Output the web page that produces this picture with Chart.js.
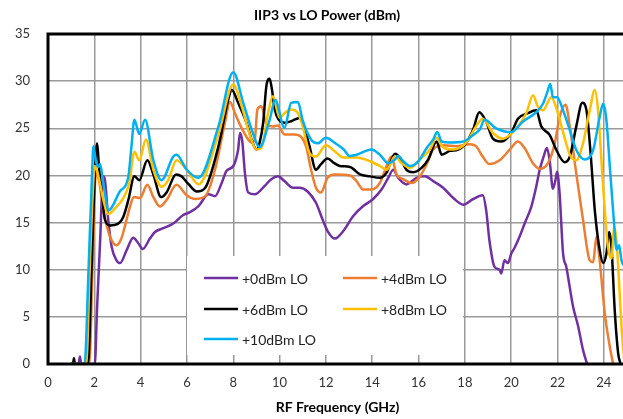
<!DOCTYPE html>
<html><head><meta charset="utf-8">
<script src="https://cdn.jsdelivr.net/npm/chart.js@4.4.0/dist/chart.umd.min.js"></script>
<style>
html,body{margin:0;padding:0;overflow:hidden;background:#fff;width:623px;height:419px}
#wrap{width:627px;height:419px}
</style></head>
<body><div id="wrap"><canvas id="c" width="627" height="419"></canvas></div>
<script>
const chartTitle = 'IIP3 vs LO Power (dBm)';
const xAxisTitle = 'RF Frequency (GHz)';
const xTicks = [0,2,4,6,8,10,12,14,16,18,20,22,24];
const yTicks = [0,5,10,15,20,25,30,35];
const seriesNames = ['+0dBm LO','+4dBm LO','+6dBm LO','+8dBm LO','+10dBm LO'];

const lo0Freq = [1.0,1.32,1.38,1.43,2.02,2.12,2.25,2.38,2.46,2.6,2.75,2.96,3.11,3.4,3.68,3.9,4.09,4.4,4.62,4.98,5.41,5.84,6.13,6.5,6.93,7.21,7.5,7.71,8.0,8.21,8.29,8.39,8.5,8.64,8.93,9.36,9.64,9.93,10.21,10.57,10.86,11.21,11.57,11.86,12.07,12.39,12.75,13.18,13.61,14.04,14.4,14.69,14.91,15.12,15.48,15.91,16.27,16.63,17.06,17.5,17.93,18.36,18.77,18.92,19.06,19.28,19.5,19.57,19.71,19.86,20.0,20.14,20.36,20.58,20.87,21.08,21.23,21.4,21.54,21.66,21.8,21.91,21.98,22.09,22.24,22.38,22.67,22.89,23.1,23.28];
const lo0IIP3 = [0,0,0.8,0,0,6,13,19.9,19.5,15.3,12.4,11,10.7,12.1,13.4,12.8,12.2,13.3,14,14.4,14.9,15.8,16.1,16.75,18,17.8,19.2,20.5,21,22.75,24.5,23.6,20.3,18.2,18,18.9,19.6,19.9,19.4,18.7,18.7,18.3,17.1,15.3,14.1,13.3,14.1,15.7,16.75,17.5,18.5,19.75,20.6,19.75,19.05,19.75,19.9,19.4,18.7,17.6,16.9,17.5,17.9,16.3,13.1,10.3,10,9.6,11,10.7,11.7,12.3,13.5,14.9,16.7,18.8,20.6,22,22.9,21.6,18.6,19.5,20.4,18.1,11.7,10.3,6.1,4,1.5,0];

const lo4Freq = [1.0,1.78,1.92,2.02,2.08,2.2,2.39,2.68,2.96,3.15,3.32,3.54,3.71,3.97,4.29,4.55,4.83,5.12,5.55,5.99,6.36,6.79,7.21,7.64,7.86,8.07,8.43,8.79,8.93,9.04,9.21,9.43,9.71,9.93,10.21,10.64,10.93,11.14,11.36,11.57,11.79,12.07,12.36,13.04,13.32,13.61,13.97,14.33,14.62,14.83,15.05,15.34,15.7,16.06,16.35,16.63,17.06,17.64,18.22,18.48,18.77,19.06,19.5,19.93,20.29,20.58,20.94,21.23,21.59,21.88,22.09,22.35,22.53,22.81,23.1,23.39,23.54,23.68,23.82,24.04,24.26,24.4];
const lo4IIP3 = [0,0,10,18.5,20.3,19.5,16.3,13.5,12.6,13.2,14.6,16.7,17.7,17.6,19,17.7,16.7,17.4,19,17.9,17.5,17.8,20.6,25.6,27.8,26.6,24.7,23.5,23.8,27,27.35,25.4,25.2,25.3,24.35,24.35,24.1,23.1,20.6,18.7,18.2,19.75,20.1,20,19.4,18.5,18.5,19.2,21,22,20.1,19.6,19.2,19.9,21.2,22.75,23.2,23.1,23.3,23.1,22,21.2,21.6,22.7,23.6,22.9,21.3,20.7,21.3,23.4,26.2,27.5,25.2,20.2,15.3,11,10.8,13.5,11,5.4,1.8,0];

const lo6Freq = [1.0,1.08,1.12,1.16,1.73,1.88,2.02,2.12,2.2,2.32,2.46,2.68,3.04,3.25,3.47,3.73,3.94,4.29,4.55,4.88,5.12,5.53,5.77,6.06,6.43,6.79,7.36,7.79,7.93,8.21,8.57,8.86,9.0,9.14,9.29,9.43,9.57,9.67,9.79,9.97,10.21,10.5,10.86,11.0,11.29,11.57,11.79,12.07,12.36,12.6,13.04,13.47,13.9,14.33,14.62,14.98,15.19,15.48,15.77,16.13,16.42,16.78,17.0,17.35,17.71,18.07,18.36,18.62,18.92,19.21,19.57,20.0,20.29,20.72,21.08,21.3,21.66,21.95,22.31,22.53,22.81,23.07,23.25,23.43,23.61,23.82,23.97,24.11,24.23,24.33,24.47,24.62,24.72];
const lo6IIP3 = [0,0,0.6,0,0,10,20,23.4,21,18.1,15.3,14.7,14.9,15.6,17.4,19.9,19.5,21.6,20.1,17.7,18.2,20.1,19.9,19.1,18.3,18.7,23.1,28.1,29.1,27.7,25.6,23.3,22.75,23.5,25.6,29.5,30.25,29.1,27,25.9,25.6,25.75,26.1,25.6,23.1,20.6,21.2,21.8,21.3,21,20.9,20.1,19.9,19.75,20.3,22.3,21.9,20.6,20.35,20.8,21.7,23.6,22.2,22.6,22.75,23.5,24.9,26.7,25.7,23.9,23.6,24.5,26,26.6,26.9,25.2,24.3,22.7,21.4,22,25.2,27.7,26.9,22.3,16.3,12.1,10.7,11.7,14,12.4,5.7,1.1,0];

const lo8Freq = [1.0,1.65,1.8,1.95,2.02,2.15,2.39,2.6,2.89,3.25,3.51,3.73,3.94,4.23,4.55,4.91,5.19,5.55,5.99,6.5,7.36,8.0,8.36,8.71,9.0,9.21,9.5,9.71,10.0,10.21,10.5,10.79,11.0,11.29,11.57,12.0,12.36,12.75,13.32,13.9,14.33,14.62,14.98,15.27,15.63,16.06,16.49,16.78,17.06,17.5,18.07,18.48,18.77,19.21,19.64,20.07,20.65,20.94,21.15,21.37,21.73,21.98,22.24,22.53,22.81,23.1,23.39,23.61,23.75,23.97,24.18,24.33,24.45,24.55,24.65,24.78,24.9];
const lo8IIP3 = [0,0,10,19,21,20.2,17.4,15.9,16.5,17.6,19.2,22.5,21.6,23.8,20.6,18.8,19.5,21.6,20.6,19.05,24.35,29.65,27.35,24.35,22.75,22.9,26.6,28.4,26.1,26.6,27,26.6,25.2,22.4,22,23.2,22.6,21.9,21.9,21.5,21,20.6,22,21.3,20.8,21.7,22.75,24,23,22.75,23.5,25.2,26,24.5,23.9,24.6,26.6,28.5,27.3,26.9,28.3,26.9,24.6,22.2,21.6,23.4,26.9,29.05,26.9,18.8,12.4,11.2,14.5,13,9,3.3,0];

const lo10Freq = [1.0,1.58,1.75,1.9,1.96,2.07,2.17,2.25,2.4,2.62,3.1,3.47,3.6,3.73,3.94,4.19,4.55,4.9,5.41,5.55,5.99,6.5,7.36,8.0,8.43,8.79,9.14,9.57,9.81,10.21,10.5,10.79,11.0,11.36,11.64,12.0,12.36,12.75,13.04,13.32,13.97,14.33,14.69,14.98,15.12,15.34,15.63,15.99,16.35,16.63,16.81,17.0,17.35,17.93,18.36,18.65,18.85,19.35,20.0,20.5,21.08,21.37,21.54,21.69,21.8,21.98,22.24,22.53,22.81,23.17,23.54,23.82,23.97,24.11,24.26,24.43,24.55,24.66,24.76,24.85,24.95];
const lo10IIP3 = [0,0,10,20,23.1,21.5,20.9,21.2,19,16.3,18.3,19.9,23,25.9,24.4,25.9,21.6,19.5,22,22.2,20.6,19.75,25.2,30.95,27.7,24.9,23,25.9,28,25.05,27.7,27.8,25.8,23.8,23.4,24,23.5,22.8,22.05,22.2,22.75,22.2,21.3,21.7,22.05,21.5,21,21.5,22.9,23.8,24.6,23.6,23.5,23.6,24.3,24.9,25.9,25,24.6,25.7,26.7,27.6,28.7,29.7,28.3,28.3,26.9,24.8,22.7,21.7,22.7,26.2,27.6,25.9,20.9,15.3,12.1,12.6,11,10.5,10];

const seriesFreq = [lo0Freq, lo4Freq, lo6Freq, lo8Freq, lo10Freq];
const seriesIIP3 = [lo0IIP3, lo4IIP3, lo6IIP3, lo8IIP3, lo10IIP3];
const seriesColors = ['#7030A0','#ED7D31','#000000','#FFC000','#00B0F0'];

const FONT = 'Lato, "Open Sans", sans-serif';

const datasets = seriesNames.map((name, i) => ({
  label: name,
  data: seriesFreq[i].map((f, j) => ({x: f, y: seriesIIP3[i][j]})),
  borderColor: seriesColors[i],
  backgroundColor: seriesColors[i],
  borderWidth: 2.5,
  pointRadius: 0,
  fill: false,
  cubicInterpolationMode: 'monotone',
  order: seriesNames.length - i
}));

const decor = {
  id: 'decor',
  beforeDatasetsDraw(chart) {
    const ctx = chart.ctx;
    ctx.save();
    ctx.fillStyle = '#ffffff';
    ctx.fillRect(187, 256, 276, 99);
    ctx.restore();
  },
  afterDatasetsDraw(chart) {
    const ctx = chart.ctx, a = chart.chartArea;
    ctx.save();
    ctx.strokeStyle = '#000';
    ctx.lineWidth = 3;
    ctx.strokeRect(a.left, a.top, a.right - a.left, a.bottom - a.top);
    // legend
    const pos = [[204, 278], [343, 278], [204, 309], [343, 309], [204, 339]];
    ctx.font = '14px ' + FONT;
    ctx.textBaseline = 'middle';
    ctx.textAlign = 'left';
    seriesNames.forEach((n, i) => {
      const [x, y] = pos[i];
      ctx.strokeStyle = seriesColors[i];
      ctx.lineWidth = 2.5;
      ctx.beginPath(); ctx.moveTo(x, y); ctx.lineTo(x + 34, y); ctx.stroke();
      ctx.fillStyle = '#222';
      ctx.fillText(n, x + 38, y + 1);
    });
    // title
    ctx.font = 'bold 14px ' + FONT;
    ctx.textAlign = 'center';
    ctx.fillStyle = '#000';
    ctx.fillText(chartTitle, 327, 15);
    ctx.restore();
  }
};

new Chart(document.getElementById('c'), {
  type: 'line',
  data: {datasets},
  options: {
    responsive: false,
    animation: false,
    devicePixelRatio: 1,
    layout: {padding: {top: 34, right: 0, bottom: 0, left: 0}},
    plugins: {legend: {display: false}, title: {display: false}, tooltip: {enabled: false}},
    scales: {
      x: {
        type: 'linear', min: 0, max: 25,
        afterBuildTicks: s => { s.ticks = xTicks.map(v => ({value: v})); },
        afterFit: s => { s.height = 55; },
        grid: {color: '#999999', lineWidth: 1.5, drawTicks: false},
        border: {display: false},
        ticks: {font: {family: FONT, size: 13}, color: '#333', padding: 11, maxRotation: 0},
        title: {display: true, text: xAxisTitle, font: {family: FONT, size: 14, weight: 'bold'}, color: '#000', padding: {top: 0, bottom: 3}}
      },
      y: {
        type: 'linear', min: 0, max: 35,
        afterBuildTicks: s => { s.ticks = yTicks.map(v => ({value: v})); },
        afterFit: s => { s.width = 48; },
        grid: {color: '#999999', lineWidth: 1.5, drawTicks: false},
        border: {display: false},
        ticks: {font: {family: FONT, size: 13}, color: '#333', padding: 18}
      }
    }
  },
  plugins: [decor]
});
</script></body></html>
